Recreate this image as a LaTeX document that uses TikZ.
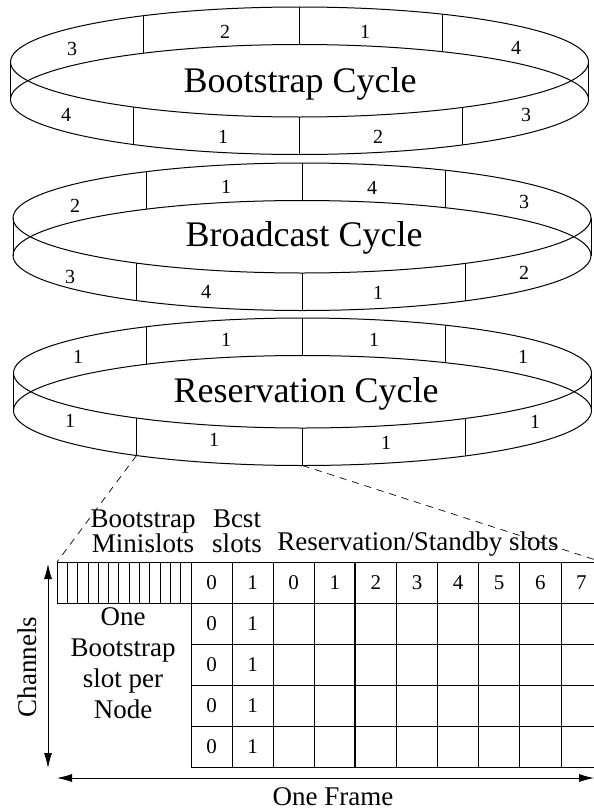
\documentclass[tikz,border=0pt]{standalone}
\usepackage{fontspec}
\setmainfont{Liberation Serif}
\usetikzlibrary{arrows.meta}

\tikzset{
  rim/.style={line width=1pt},
  cyclename/.style={font=\fontsize{36}{40}\selectfont,anchor=base,inner sep=0pt},
  owner/.style={font=\fontsize{20}{22}\selectfont,inner sep=0pt},
  slotno/.style={font=\fontsize{21}{23}\selectfont,inner sep=0pt},
  caption/.style={font=\fontsize{27}{25}\selectfont,align=center,inner sep=0pt},
  zoomline/.style={line width=0.7pt,dash pattern=on 7pt off 6pt},
  span/.style={line width=0.8pt,{Latex[length=15pt,width=8pt]}-{Latex[length=15pt,width=8pt]}},
}

\begin{document}
\begin{tikzpicture}[x=1pt,y=-1pt,line width=0.8pt]
  \useasboundingbox (0,0) rectangle (594,811);
  \clip (0,0) rectangle (594,811);
  % the three cycles, each one a flat band seen from above
  \foreach \cx/\cy in {299.5/62,302/218,302.5/373}{
    \begin{scope}[shift={(\cx,\cy)}]
      \draw[rim] (0,0) ellipse [x radius=289,y radius=55];
      \draw[rim] (0,37.5) ellipse [x radius=289,y radius=55];
      \draw[rim] (-289,0) -- (-289,37.5) (289,0) -- (289,37.5);
      % back wall
      \foreach \dx in {-156,0,143}{
        \pgfmathsetmacro\h{55*sqrt(1-(\dx/289)^2)}
        \draw (\dx,-\h) -- (\dx,37.5-\h);
      }
      % front wall
      \foreach \dx in {-166,0,163}{
        \pgfmathsetmacro\h{55*sqrt(1-(\dx/289)^2)}
        \draw (\dx,\h) -- (\dx,37.5+\h);
      }
    \end{scope}
  }
  \node[cyclename] (boot) at (300,92) {Bootstrap Cycle};
  \node[cyclename] (bcast) at (304,246) {Broadcast Cycle};
  \node[cyclename] (resv) at (306,402) {Reservation Cycle};
  %% slot owners on the bands
  \foreach \x/\y/\t [count=\i] in {72/49/3,225/32/2,365/32/1,516/48/4,
      66/115/4,223/137/1,378/137/2,526/115/3,
      75/206/2,226/187/1,372/188/4,524/202/3,
      70/277/3,206/292/4,378/293/1,524/273/2,
      78/357/1,226/340/1,374/340/1,523/357/1,
      70/421/1,214/440/1,386/443/1,535/422/1}
    \node[owner] (own-\i) at (\x,\y) {\t};
  %% one frame of the reservation cycle
  \coordinate (cutl) at (136.5,455.5);
  \coordinate (cutr) at (302.5,465.5);
  \coordinate (gridnw) at (57,562);
  \coordinate (gridne) at (602,562);
  \draw[zoomline] (cutl) -- (gridnw);
  \draw[zoomline] (cutr) -- (gridne);
  \draw (57,562) rectangle (191,603);
  \foreach \i in {1,...,12}
    \draw ({57+\i*134/13},562) -- ++(0,41);
  \foreach \r in {0,...,5}
    \draw (191,{562+41.1*\r}) -- ++(412,0);
  \foreach \c in {0,...,10}
    \draw ({191+41.1*\c},562) -- ++(0,205.5);
  \draw[line width=2pt] (355.4,562) -- ++(0,205.5);
  \foreach \r in {0,...,4}{
    \node[slotno] (bc0-\r) at (211.5,{582.5+41.1*\r}) {0};
    \node[slotno] (bc1-\r) at (252.6,{582.5+41.1*\r}) {1};
  }
  \foreach \k in {0,...,7}
    \node[slotno] (rs-\k) at ({293.7+41.1*\k},582.5) {\k};
  \node[caption,anchor=south] (minis) at (143,553) {Bootstrap\\Minislots};
  \node[caption,anchor=south] (bcst) at (237,553) {Bcst\\slots};
  \node[caption,anchor=base] (rsv) at (418,550) {Reservation/Standby slots};
  \node[caption,anchor=north,font=\fontsize{27}{31}\selectfont] (oneslot) at (123,607)
    {One\\Bootstrap\\slot per\\Node};
  %% axes
  \coordinate (chtop) at (48,564);
  \coordinate (chbot) at (48,768);
  \draw[span] (chtop) -- (chbot);
  \node[caption,rotate=90] (chan) at (27,667) {Channels};
  \coordinate (frl) at (57,778);
  \coordinate (frr) at (594,778);
  \draw[span] (frl) -- (frr);
  \node[caption,anchor=base] (frame) at (333,805) {One Frame};
\end{tikzpicture}
\end{document}
